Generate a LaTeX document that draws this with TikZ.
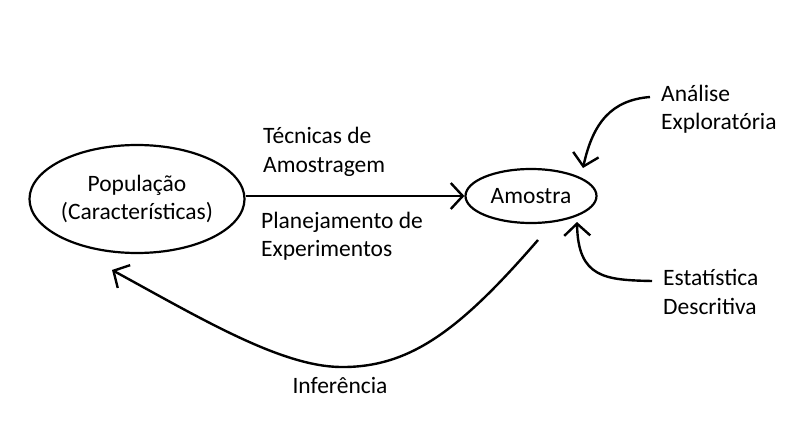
\documentclass[tikz,border=0pt]{standalone}
\usepackage{fontspec}
\setmainfont{Carlito}
\usetikzlibrary{shapes.geometric,arrows.meta}
\begin{document}
\begin{tikzpicture}[x=1pt,y=-1pt,
  every node/.style={font=\fontsize{23.5}{28.5}\selectfont},
  blob/.style={draw,ellipse,line width=2.2pt,inner sep=0pt},
  link/.style={line width=2.4pt,-{Straight Barb[length=12pt,width=26pt,line width=2.4pt]}},
  lbl/.style={align=left,anchor=west,inner sep=0pt}]
\useasboundingbox (0,0) rectangle (802,441);
\fill[white] (0,0) rectangle (802,441);
% main entities
\node[blob,minimum width=195pt,minimum height=108pt,align=center] (pop) at (137,199) {População\\(Características)};
\node[blob,minimum width=131pt,minimum height=54pt] (amo) at (531,196) {Amostra};
% side labels
\node[lbl] (tec) at (263,152) {Técnicas de\\Amostragem};
\node[lbl] (plan) at (261,236) {Planejamento de\\Experimentos};
\node[lbl] (ana) at (661,109) {Análise\\Exploratória};
\node[lbl] (est) at (663,292) {Estatística\\Descritiva};
\node[inner sep=0pt] (inf) at (340,385) {Inferência};
% anchor points of the curved connectors
\coordinate (infstart) at (538,240);
\coordinate (infend) at (112,270);
\coordinate (anatip) at (583,168);
\coordinate (esttip) at (577,222);
% connectors
\draw[link] (pop.east|-amo.west) -- (amo.west);
\draw[link] (infstart) .. controls (460,330) and (410,368) .. (340,367)
  .. controls (280,366) and (200,318) .. (infend);
\draw[link] (650,97) .. controls (612,100) and (593,122) .. (anatip);
\draw[link] (652,281) .. controls (605,280) and (578,278) .. (esttip);
\end{tikzpicture}
\end{document}
